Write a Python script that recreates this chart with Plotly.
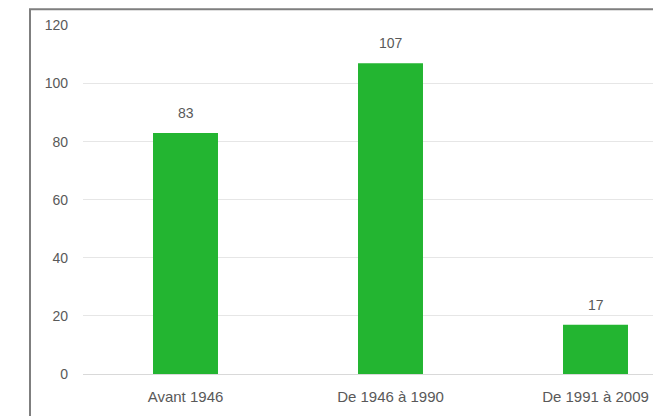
import plotly.graph_objects as go

categories = ["Avant 1946", "De 1946 à 1990", "De 1991 à 2009"]
values = [83, 107, 17]
y_ticks = [0, 20, 40, 60, 80, 100, 120]

# page body has an 8px margin, so the figure is offset by 8px
W, H = 661, 408
FONT = dict(family="Liberation Sans, Arial, sans-serif", size=14, color="#595959")
XFONT = dict(family="Liberation Sans, Arial, sans-serif", size=15, color="#595959")

fig = go.Figure()
fig.add_trace(go.Bar(
    x=categories, y=values,
    marker=dict(color="#23b531", line=dict(width=0)),
    width=0.317,
    hoverinfo="skip",
))

for c, v in zip(categories, values):
    fig.add_annotation(x=c, y=v, text=str(v), showarrow=False,
                       yanchor="bottom", yshift=10, font=FONT)

# outer border (cropped at right and bottom)
fig.add_shape(type="rect", xref="paper", yref="paper",
              x0=22 / W, x1=1.05, y0=-0.1, y1=(H - 1.2) / H,
              line=dict(color="#7f7f7f", width=2), layer="above")

fig.update_layout(
    width=W, height=H,
    margin=dict(l=0, r=0, t=0, b=0),
    paper_bgcolor="white", plot_bgcolor="white",
    showlegend=False,
    font=FONT,
    xaxis=dict(domain=[75 / W, 1.0], range=[-0.5, (W - 75) / 205 - 0.5], automargin=False,
               showgrid=False, showline=False, zeroline=False, ticks="",
               tickfont=XFONT, ticklabelstandoff=12, fixedrange=True),
    yaxis=dict(domain=[(H - 366) / H, (H - 17.5) / H], range=[0, 120],
               tickvals=y_ticks, automargin=False,
               showgrid=True, gridcolor="#e6e6e6", gridwidth=1,
               zeroline=True, zerolinecolor="#d9d9d9", zerolinewidth=1,
               showline=False, ticks="", tickfont=FONT,
               ticklabelstandoff=14, fixedrange=True),
)

fig.write_html("out.html")
